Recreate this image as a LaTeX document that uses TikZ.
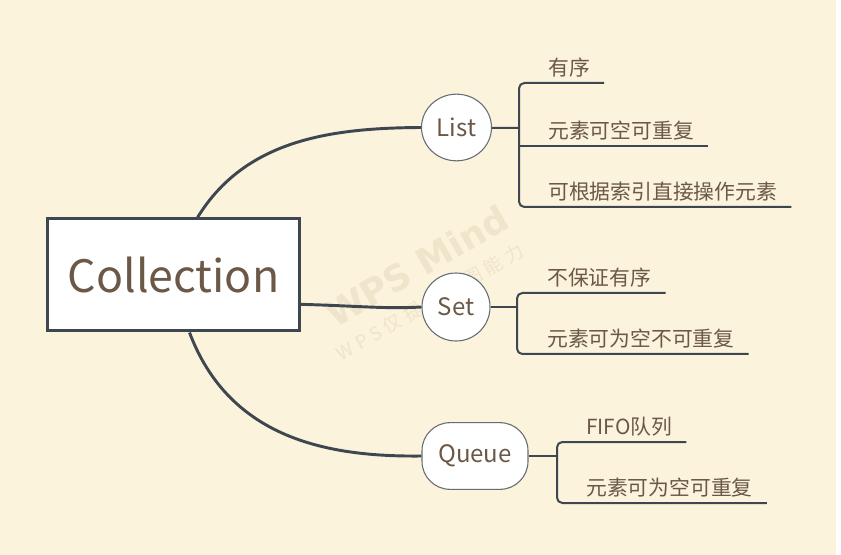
\documentclass[tikz,border=0pt]{standalone}
\usepackage{fontspec}
\usetikzlibrary{shapes.geometric}
\setmainfont{Noto Sans CJK SC}
\newfontfamily\wmfont{DejaVu Sans}
\definecolor{paper}{HTML}{FBF3DC}
\definecolor{ink}{HTML}{6B5846}
\definecolor{wire}{HTML}{3E4750}
\definecolor{ghost}{HTML}{EEE5CA}
\begin{document}
\begin{tikzpicture}
    [x=0.75pt,y=-0.75pt,
     root/.style={draw=wire,line width=2.25pt,fill=white,minimum width=189pt,minimum height=84pt,
       text=ink,font=\fontsize{33.5}{40}\selectfont},
     topic/.style={draw=wire!80,line width=0.8pt,fill=white,text=ink,minimum height=50pt,
       font=\fontsize{18}{20}\selectfont},
     leaf/.style={anchor=south west,inner xsep=0pt,inner ysep=5.25pt,text depth=0pt,text=ink,
       font=\fontsize{15.6}{18}\selectfont},
     limb/.style={draw=wire,line width=2.2pt},
     twig/.style={draw=wire,line width=1.5pt}]
    \fill[white] (0,0) rectangle (841,555);
    \fill[paper] (0,0) rectangle (836,555);
    \node[rotate=30,text=ghost,font=\wmfont\bfseries\fontsize{27}{30}\selectfont] (wm1) at (417,266) {WPS Mind};
    \node[rotate=30,text=ghost,font=\fontsize{14}{16}\selectfont\addfontfeature{LetterSpace=25}] (wm2) at (430,302) {WPS仅提供作图能力};
    \node[root] (coll) at (173.5,275) {Collection};
    \node[topic,ellipse,minimum width=52.5pt] (list) at (456.5,127.5) {List};
    \node[topic,ellipse,minimum width=51pt,minimum height=51pt] (set) at (456,307) {Set};
    \node[topic,rounded corners=21pt,minimum width=79.5pt] (queue) at (475,456) {Queue};
    \draw[limb] ([xshift=18pt]coll.north) .. controls (245,140) and (330,128) .. (list.west);
    \draw[limb] ([yshift=-22pt]coll.east) .. controls (360,306) and (385,309) .. (set.west);
    \draw[limb] ([xshift=12pt]coll.south) .. controls (230,440) and (330,457) .. (queue.west);
    \coordinate (lk) at (519,128);
    \coordinate (sk) at (517,307);
    \coordinate (qk) at (557,456);
    \node[leaf] (l1) at (548,83) {有序};
    \node[leaf] (l2) at (548,146) {元素可空可重复};
    \node[leaf] (l3) at (548,207) {可根据索引直接操作元素};
    \node[leaf] (s1) at (547,293) {不保证有序};
    \node[leaf] (s2) at (547,354) {元素可为空不可重复};
    \node[leaf] (q1) at (586,442) {FIFO队列};
    \node[leaf] (q2) at (586,503) {元素可为空可重复};
    \draw[twig] (list) -- (lk);
    \draw[twig,rounded corners=4pt] ([xshift=10.5pt]l1.south east) -| (lk) |- ([xshift=10.5pt]l3.south east);
    \draw[twig] (lk |- l2.south) -- ([xshift=10.5pt]l2.south east);
    \draw[twig] (set) -- (sk);
    \draw[twig,rounded corners=4pt] ([xshift=10.5pt]s1.south east) -| (sk) |- ([xshift=10.5pt]s2.south east);
    \draw[twig] (queue) -- (qk);
    \draw[twig,rounded corners=4pt] ([xshift=10.5pt]q1.south east) -| (qk) |- ([xshift=10.5pt]q2.south east);
  \end{tikzpicture}
\end{document}
